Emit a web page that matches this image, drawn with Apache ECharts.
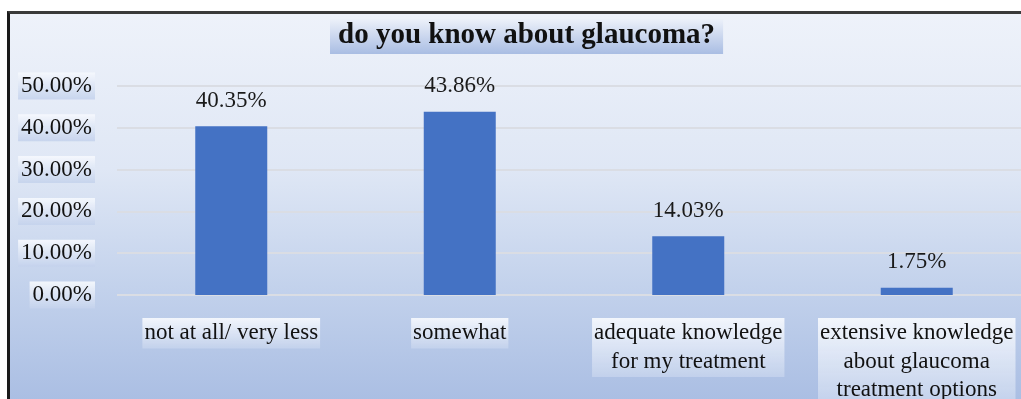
<!DOCTYPE html>
<html><head><meta charset="utf-8">
<script src="https://cdn.jsdelivr.net/npm/echarts@6/dist/echarts.min.js"></script>
<style>
html,body{margin:0;padding:0;background:#fff;overflow:hidden;}
#bg{position:absolute;left:7px;top:11px;width:1014px;height:388px;border-top:3px solid #3a3a3a;border-left:3px solid #1a1a1a;background:linear-gradient(to bottom,#eef2fa 0%,#dfe7f5 40%,#c3d2ec 70%,#aabee3 100%);}
#c{position:absolute;left:0;top:0;width:1021px;height:399px;}
</style></head>
<body>
<div id="bg"></div>
<div id="c"></div>
<script>
var categories = ['not at all/ very less', 'somewhat', 'adequate knowledge\nfor my treatment', 'extensive knowledge\nabout glaucoma\ntreatment options'];
var values = [40.35, 43.86, 14.03, 1.75];
var yTicks = [0, 10, 20, 30, 40, 50];
var titleText = 'do you know about glaucoma?';

var serif = '"Liberation Serif","Times New Roman",serif';
function boxGrad(){
  return new echarts.graphic.LinearGradient(0,0,0,1,[{offset:0,color:'rgba(245,248,253,0.95)'},{offset:1,color:'rgba(196,210,236,0.9)'}]);
}
var chart = echarts.init(document.getElementById('c'), null, {renderer:'canvas'});
chart.setOption({
  backgroundColor: 'transparent',
  animation: false,
  title: {
    text: titleText, left: 330, top: 18,
    padding: [3, 8, 4, 8],
    backgroundColor: new echarts.graphic.LinearGradient(0,0,0,1,[{offset:0,color:'#eef2fa'},{offset:1,color:'#a9bde3'}]),
    textStyle: {fontFamily: serif, fontSize: 29, fontWeight: 'bold', color: '#111'}
  },
  grid: {left: 117, width: 914, top: 86, height: 209, containLabel: false, outerBoundsMode: 'none'},
  xAxis: {
    type: 'category', data: categories,
    axisLine: {show: false}, axisTick: {show: false},
    axisLabel: {
      interval: 0, margin: 23, fontFamily: serif, fontSize: 23, color: '#111', lineHeight: 28.5,
      backgroundColor: boxGrad(), padding: [1, 2]
    }
  },
  yAxis: {
    type: 'value', min: yTicks[0], max: yTicks[yTicks.length-1], interval: 10,
    axisLine: {show: false}, axisTick: {show: false},
    splitLine: {lineStyle: {color: '#dadde4', width: 2}},
    axisLabel: {
      margin: 22, fontFamily: serif, fontSize: 23, color: '#111',
      formatter: function(v){ return v.toFixed(2) + '%'; },
      backgroundColor: boxGrad(), padding: [2, 3]
    }
  },
  series: [{
    type: 'bar', data: values, barWidth: 72,
    itemStyle: {color: '#4472c4'},
    label: {
      show: true, position: 'top', distance: 14,
      fontFamily: serif, fontSize: 23, color: '#1a1a1a',
      formatter: function(p){ return p.value.toFixed(2) + '%'; }
    }
  }]
});
</script>
</body></html>
